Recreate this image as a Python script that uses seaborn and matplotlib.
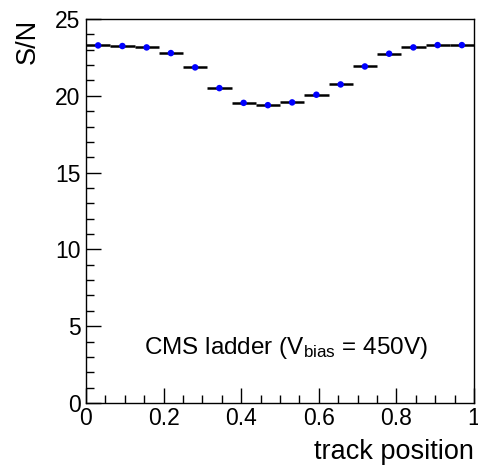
import matplotlib
matplotlib.use("Agg")
import matplotlib.pyplot as plt
import seaborn as sns
import numpy as np
import pandas as pd
from matplotlib.ticker import MultipleLocator

# data
bin_centers = [(i + 0.5) / 16 for i in range(16)]
sn_values = [23.28, 23.24, 23.15, 22.78, 21.85, 20.50, 19.54, 19.39,
             19.57, 20.07, 20.74, 21.91, 22.74, 23.15, 23.30, 23.30]
bin_halfwidth = 1 / 32
x_ticks = [0, 0.2, 0.4, 0.6, 0.8, 1]
x_ticklabels = ["0", "0.2", "0.4", "0.6", "0.8", "1"]
y_ticks = [0, 5, 10, 15, 20, 25]

df = pd.DataFrame({"pos": bin_centers, "sn": sn_values})

sns.set_style("white")
plt.rcParams["font.family"] = ["Liberation Sans", "DejaVu Sans"]
plt.rcParams["mathtext.fontset"] = "custom"
plt.rcParams["mathtext.rm"] = "Liberation Sans"
plt.rcParams["mathtext.it"] = "Liberation Sans"
plt.rcParams["text.color"] = "black"
plt.rcParams["axes.labelcolor"] = "black"
plt.rcParams["xtick.color"] = "black"
plt.rcParams["ytick.color"] = "black"

fig = plt.figure(figsize=(4.78, 4.65), dpi=100)
ax = fig.add_axes([86 / 478, (465 - 403) / 465, 388 / 478, 384 / 465])

ax.errorbar(df["pos"], df["sn"], xerr=bin_halfwidth, fmt="none",
            ecolor="black", elinewidth=1.8, capsize=0)
sns.scatterplot(data=df, x="pos", y="sn", ax=ax, color="blue", s=22,
                edgecolor="none", zorder=3)

ax.set_xlim(0, 1)
ax.set_ylim(0, 25)
ax.set_xticks(x_ticks)
ax.set_xticklabels(x_ticklabels)
ax.set_yticks(y_ticks)
ax.xaxis.set_minor_locator(MultipleLocator(0.05))
ax.yaxis.set_minor_locator(MultipleLocator(1))
ax.tick_params(axis="both", which="both", bottom=True, left=True,
               top=False, right=False)
ax.tick_params(axis="both", which="major", direction="in", length=11,
               width=1, labelsize=16.5, colors="black")
ax.tick_params(axis="both", which="minor", direction="in", length=5.5,
               width=1, colors="black")
ax.tick_params(axis="x", pad=3)
ax.tick_params(axis="y", pad=4)
for sp in ax.spines.values():
    sp.set_visible(True)
    sp.set_color("black")
    sp.set_linewidth(1)

ax.set_xlabel("track position", fontsize=19.5, ha="right", x=1.0, labelpad=6.5)
ax.set_ylabel("S/N", fontsize=19.5, ha="right", y=1.0, labelpad=10)

ax.text(0.515, 3.6, r"CMS ladder (V$_{\mathrm{bias}}$ = 450V)", fontsize=17.5,
        ha="center", va="center")

fig.savefig("out.png", dpi=100)
